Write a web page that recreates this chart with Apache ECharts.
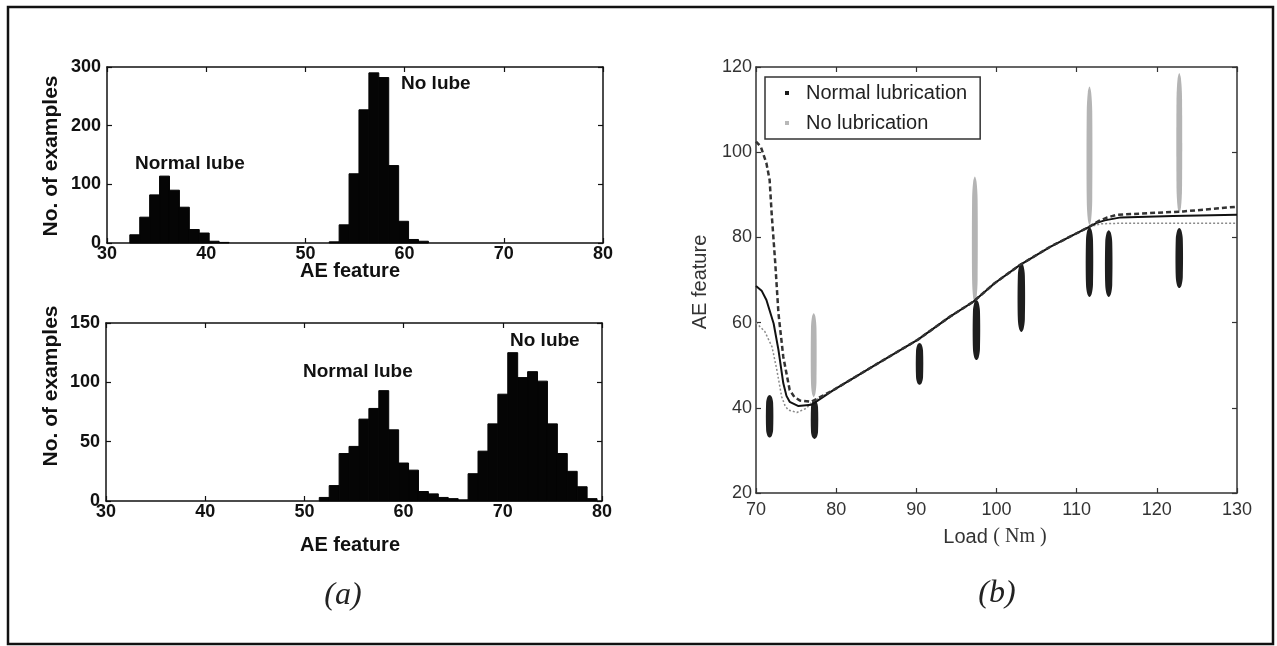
<!DOCTYPE html>
<html>
<head>
<meta charset="utf-8">
<script src="https://cdn.jsdelivr.net/npm/echarts@6/dist/echarts.min.js"></script>
<style>
  html, body { margin: 0; padding: 0; background: #fff; }
  #charts { width: 1277px; height: 646px; }
</style>
</head>
<body>
<div id="charts"></div>
<script>
// (a) top histogram, bin centres and counts
var topNormCenters = [32.8, 33.8, 34.8, 35.8, 36.8, 37.8, 38.8, 39.8, 40.8, 41.8];
var topNormCounts = [14, 44, 82, 114, 90, 61, 23, 17, 3, 1];
var topNoCenters = [52.9, 53.9, 54.9, 55.9, 56.9, 57.9, 58.9, 59.9, 60.9, 61.9];
var topNoCounts = [2, 31, 118, 227, 290, 282, 132, 37, 6, 3];

// (a) bottom histogram
var botNormCenters = [52, 53, 54, 55, 56, 57, 58, 59, 60, 61, 62, 63, 64, 65, 66];
var botNormCounts = [3, 13, 40, 46, 69, 78, 93, 60, 32, 26, 8, 6, 3, 2, 1];
var botNoCenters = [67, 68, 69, 70, 71, 72, 73, 74, 75, 76, 77, 78, 79];
var botNoCounts = [23, 42, 65, 90, 125, 104, 109, 101, 65, 40, 25, 12, 2];

// (b) clusters: load, lowest and highest AE feature of each strip
var normLoads = [71.7, 77.3, 90.4, 97.5, 103.1, 111.6, 114.0, 122.8];
var normLow = [33, 32.7, 45.4, 51.2, 57.8, 66, 66, 68.1];
var normHigh = [43, 41.8, 55.2, 65.3, 74, 82.4, 81.7, 82.2];
var noLubLoads = [77.2, 97.3, 111.6, 122.8];
var noLubLow = [42.5, 64.6, 82.9, 85.7];
var noLubHigh = [62.2, 94.3, 115.4, 118.6];

// (b) the three fitted curves
var dashedCurve = [[70, 102.5], [70.6, 101.3], [71.3, 97.4], [71.7, 93.5], [71.95, 85.7], [72.4, 74], [72.8, 62.2], [73.4, 52], [74.2, 44.2], [74.8, 42.5], [75.5, 41.7], [76.9, 41.4],
  [79.7, 44.2], [85, 50.2], [90.2, 56], [94.2, 61.4], [97.1, 64.9], [99.8, 69.3], [102.9, 73.5], [106.7, 77.8], [109.6, 80.6], [111.5, 82.4],
  [112.7, 83.8], [113.7, 84.6], [115, 85.3], [123.3, 86.1], [130, 87.2]];
var solidCurve = [[70, 68.6], [70.7, 67.5], [71.3, 65.3], [72.2, 59.8], [72.8, 53.6], [73.4, 45.8], [73.8, 42.8], [74.2, 41.4], [75.3, 40.4], [76.9, 40.7],
  [79.7, 44.2], [85, 50.2], [90.2, 56], [94.2, 61.4], [97.1, 64.9], [99.8, 69.3], [102.9, 73.5], [106.7, 77.8], [109.6, 80.6], [111.5, 82.4],
  [112.5, 83.4], [113.5, 84], [115.5, 84.7], [122, 85], [130, 85.3]];
var dottedCurve = [[70, 60], [71.1, 57.9], [72, 54.3], [72.6, 48.9], [73.2, 42.6], [73.6, 40.6], [74, 39.5], [75.1, 38.9], [76.3, 39.9], [77, 41.4],
  [79.7, 44.2], [85, 50.2], [90.2, 56], [94.2, 61.4], [97.1, 64.9], [99.8, 69.3], [102.9, 73.5], [106.7, 77.8], [109.6, 80.6], [111.5, 82.4],
  [113, 83.2], [115, 83.3], [130, 83.3]];

function pairs(a, b) {
  var out = [];
  for (var i = 0; i < a.length; i++) out.push([a[i], b[i]]);
  return out;
}
function triples(a, b, c) {
  var out = [];
  for (var i = 0; i < a.length; i++) out.push([a[i], b[i], c[i]]);
  return out;
}

var sans = 'Liberation Sans, Arial, sans-serif';
var serif = 'Liberation Serif, DejaVu Serif, serif';

// one histogram bar, one unit wide
function histBar(params, api) {
  var c = api.value(0);
  var p1 = api.coord([c - 0.5, api.value(1)]);
  var p2 = api.coord([c + 0.5, 0]);
  return {
    type: 'rect',
    shape: { x: p1[0], y: p1[1], width: p2[0] - p1[0], height: p2[1] - p1[1] },
    style: { fill: '#050505', stroke: '#050505', lineWidth: 1 }
  };
}

// a vertical strip of points drawn as a narrow spindle
function strip(w, color) {
  return function(params, api) {
    var top = api.coord([api.value(0), api.value(2)]);
    var bot = api.coord([api.value(0), api.value(1)]);
    var cx = top[0], t = top[1], h = bot[1] - top[1];
    var pts = [
      [cx, t], [cx + w * 0.3, t + h * 0.04], [cx + w * 0.5, t + h * 0.18], [cx + w * 0.5, t + h * 0.82],
      [cx + w * 0.3, t + h * 0.96], [cx, t + h],
      [cx - w * 0.3, t + h * 0.96], [cx - w * 0.5, t + h * 0.82], [cx - w * 0.5, t + h * 0.18], [cx - w * 0.3, t + h * 0.04]
    ];
    return { type: 'polygon', shape: { points: pts, smooth: 0.3 }, style: { fill: color } };
  };
}

function boxAxes(gridIndex, min, max, interval, isX, color, labelSize, weight, margin) {
  var base = {
    gridIndex: gridIndex, type: 'value', min: min, max: max, interval: interval,
    splitLine: { show: false },
    axisLine: { show: true, onZero: false, lineStyle: { color: color, width: 1.5 } },
    axisTick: { show: true, inside: true, length: 5, lineStyle: { color: color, width: 1.2 } }
  };
  var a = Object.assign({}, base, {
    position: isX ? 'bottom' : 'left',
    axisLabel: { show: true, fontSize: labelSize, fontFamily: sans, fontWeight: weight, color: color, margin: margin }
  });
  var b = Object.assign({}, base, {
    position: isX ? 'top' : 'right',
    axisLabel: { show: false }
  });
  return [a, b];
}

var chart = echarts.init(document.getElementById('charts'));

var xAxes = [].concat(
  boxAxes(0, 30, 80, 10, true, '#111', 18, 'bold', 2),
  boxAxes(1, 30, 80, 10, true, '#111', 18, 'bold', 2),
  boxAxes(2, 70, 130, 10, true, '#333', 18, 'normal', 8)
);
var yAxes = [].concat(
  boxAxes(0, 0, 300, 100, false, '#111', 18, 'bold', 6),
  boxAxes(1, 0, 150, 50, false, '#111', 18, 'bold', 6),
  boxAxes(2, 20, 120, 20, false, '#333', 18, 'normal', 4)
);

function text(x, y, str, size, extra, rot) {
  return {
    type: 'text', x: x, y: y, rotation: rot || 0,
    style: Object.assign({ text: str, fontSize: size, fontFamily: sans, fill: '#111', align: 'center', verticalAlign: 'middle' }, extra || {})
  };
}

var option = {
  animation: false,
  backgroundColor: '#fff',
  grid: [
    { left: 107, top: 67, width: 496, height: 176 },
    { left: 106, top: 323, width: 496, height: 178 },
    { left: 756, top: 67, width: 481, height: 426 }
  ],
  xAxis: xAxes,
  yAxis: yAxes,
  legend: {
    orient: 'vertical', left: 765, top: 77,
    padding: [6, 13, 6, 20], itemGap: 10, itemWidth: 4, itemHeight: 4, icon: 'rect',
    borderColor: '#333', borderWidth: 1.5, selectedMode: false,
    data: ['Normal lubrication', 'No lubrication'],
    textStyle: { fontSize: 20, fontFamily: sans, color: '#222', padding: [0, 0, 0, 12] }
  },
  graphic: [
    { type: 'rect', shape: { x: 8, y: 7, width: 1265, height: 637 }, style: { fill: 'none', stroke: '#111', lineWidth: 2.5 } },
    text(51, 156, 'No. of examples', 21, { fontWeight: 'bold' }, Math.PI / 2),
    text(51, 386, 'No. of examples', 21, { fontWeight: 'bold' }, Math.PI / 2),
    text(350, 271, 'AE feature', 20, { fontWeight: 'bold' }),
    text(350, 545, 'AE feature', 20, { fontWeight: 'bold' }),
    text(135, 164, 'Normal lube', 19, { fontWeight: 'bold', align: 'left' }),
    text(401, 84, 'No lube', 19, { fontWeight: 'bold', align: 'left' }),
    text(303, 372, 'Normal lube', 19, { fontWeight: 'bold', align: 'left' }),
    text(510, 341, 'No lube', 19, { fontWeight: 'bold', align: 'left' }),
    text(700, 282, 'AE feature', 20, { fill: '#333' }, Math.PI / 2),
    { type: 'text', x: 995, y: 537, style: {
        text: '{a|Load }{b|( Nm )}', align: 'center', verticalAlign: 'middle',
        rich: { a: { fontSize: 20, fontFamily: sans, fill: '#333' }, b: { fontSize: 20, fontFamily: serif, fill: '#333' } }
    } },
    text(343, 596, '(a)', 32, { fontFamily: serif, fontStyle: 'italic', fill: '#222' }),
    text(997, 594, '(b)', 32, { fontFamily: serif, fontStyle: 'italic', fill: '#222' })
  ],
  series: [
    { type: 'custom', name: 'top normal', xAxisIndex: 0, yAxisIndex: 0, renderItem: histBar, data: pairs(topNormCenters, topNormCounts) },
    { type: 'custom', name: 'top no lube', xAxisIndex: 0, yAxisIndex: 0, renderItem: histBar, data: pairs(topNoCenters, topNoCounts) },
    { type: 'custom', name: 'bottom normal', xAxisIndex: 2, yAxisIndex: 2, renderItem: histBar, data: pairs(botNormCenters, botNormCounts) },
    { type: 'custom', name: 'bottom no lube', xAxisIndex: 2, yAxisIndex: 2, renderItem: histBar, data: pairs(botNoCenters, botNoCounts) },
    { type: 'custom', name: 'No lubrication', xAxisIndex: 4, yAxisIndex: 4, itemStyle: { color: '#b8b8b8' },
      renderItem: strip(5.5, '#b4b4b4'), data: triples(noLubLoads, noLubLow, noLubHigh) },
    { type: 'custom', name: 'Normal lubrication', xAxisIndex: 4, yAxisIndex: 4, itemStyle: { color: '#1a1a1a' },
      renderItem: strip(7, '#1e1e1e'), data: triples(normLoads, normLow, normHigh) },
    { type: 'line', name: 'fit dotted', xAxisIndex: 4, yAxisIndex: 4, data: dottedCurve, showSymbol: false,
      smooth: false, lineStyle: { color: '#8a8a8a', width: 1.5, type: [2, 2] } },
    { type: 'line', name: 'fit solid', xAxisIndex: 4, yAxisIndex: 4, data: solidCurve, showSymbol: false,
      smooth: false, lineStyle: { color: '#111', width: 2 } },
    { type: 'line', name: 'fit dashed', xAxisIndex: 4, yAxisIndex: 4, data: dashedCurve, showSymbol: false,
      smooth: false, lineStyle: { color: '#333', width: 2.5, type: [5, 3] } }
  ]
};

chart.setOption(option);
</script>
</body>
</html>
